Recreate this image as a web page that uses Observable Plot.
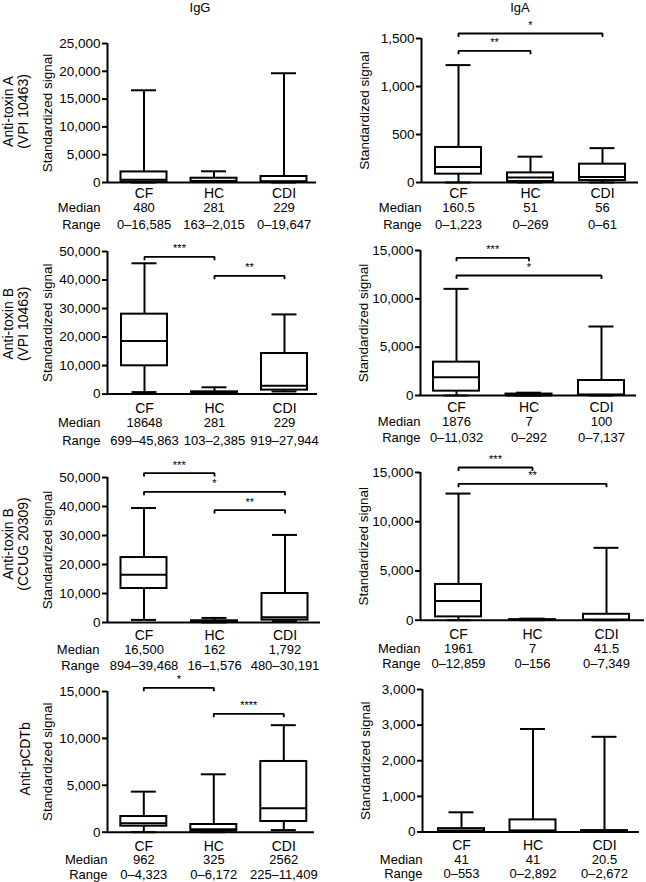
<!DOCTYPE html>
<html><head><meta charset="utf-8">
<script src="https://cdn.jsdelivr.net/npm/d3@7"></script>
<script src="https://cdn.jsdelivr.net/npm/@observablehq/plot@0.6"></script>
<style>
body{margin:0;background:#fff;}
#fig{position:relative;width:646px;height:882px;font-family:"Liberation Sans",Arial,sans-serif;color:#000;overflow:hidden;}
.ttl{position:absolute;top:0;font-size:13px;line-height:15px;transform:translateX(-50%);white-space:nowrap;}
#fig svg{position:absolute;overflow:visible;}
</style></head><body><div id="fig"></div>
<script>
// ---------- data ----------
const groups = ["CF", "HC", "CDI"];
const columnTitles = ["IgG", "IgA"];
const rowTitles = ["Anti-toxin A\n(VPI 10463)", "Anti-toxin B\n(VPI 10463)", "Anti-toxin B\n(CCUG 20309)", "Anti-pCDTb"];
const yAxisTitle = "Standardized signal";
const rowHeaders = ["Median", "Range"];
// panels in reading order: [row1 IgG, row1 IgA, row2 IgG, row2 IgA, ...]
const yMax = [25000, 1500, 50000, 15000, 50000, 15000, 15000, 4000];
const yTicks = [
  [0, 5000, 10000, 15000, 20000, 25000],
  [0, 500, 1000, 1500],
  [0, 10000, 20000, 30000, 40000, 50000],
  [0, 5000, 10000, 15000],
  [0, 10000, 20000, 30000, 40000, 50000],
  [0, 5000, 10000, 15000],
  [0, 5000, 10000, 15000],
  [0, 1000, 2000, 3000, 4000]
];
const yTickLabels = [
  ["0", "5,000", "10,000", "15,000", "20,000", "25,000"],
  ["0", "500", "1,000", "1,500"],
  ["0", "10,000", "20,000", "30,000", "40,000", "50,000"],
  ["0", "5,000", "10,000", "15,000"],
  ["0", "10,000", "20,000", "30,000", "40,000", "50,000"],
  ["0", "5,000", "10,000", "15,000"],
  ["0", "5,000", "10,000", "15,000"],
  ["0", "1,000", "2,000", "3,000", "3,000"]
];
// box statistics per panel, order CF, HC, CDI
const boxMin    = [[0, 163, 0], [0, 0, 0], [699, 103, 919], [0, 0, 0], [894, 16, 480], [0, 0, 0], [0, 0, 225], [0, 0, 0]];
const boxQ1     = [[80, 200, 30], [87, 10, 20], [9920, 150, 1400], [450, 0, 10], [11720, 80, 830], [335, 0, 0], [640, 100, 1140], [10, 20, 5]];
const boxMedian = [[480, 281, 229], [160.5, 51, 56], [18648, 281, 2900], [1876, 7, 100], [16500, 162, 1792], [1961, 7, 41.5], [962, 325, 2562], [41, 41, 20.5]];
const boxQ3     = [[1900, 770, 1080], [365, 100, 191], [28030, 800, 14230], [3450, 150, 1550], [22400, 600, 10000], [3630, 60, 600], [1670, 820, 7540], [94, 340, 40]];
const boxMax    = [[16585, 2015, 19647], [1223, 269, 358], [45863, 2385, 27944], [11032, 292, 7137], [39468, 1576, 30191], [12859, 156, 7349], [4323, 6172, 11409], [553, 2892, 2672]];
const medianLabels = [
  ["480", "281", "229"], ["160.5", "51", "56"], ["18648", "281", "229"], ["1876", "7", "100"],
  ["16,500", "162", "1,792"], ["1961", "7", "41.5"], ["962", "325", "2562"], ["41", "41", "20.5"]
];
const rangeLabels = [
  ["0–16,585", "163–2,015", "0–19,647"], ["0–1,223", "0–269", "0–61"],
  ["699–45,863", "103–2,385", "919–27,944"], ["0–11,032", "0–292", "0–7,137"],
  ["894–39,468", "16–1,576", "480–30,191"], ["0–12,859", "0–156", "0–7,349"],
  ["0–4,323", "0–6,172", "225–11,409"], ["0–553", "0–2,892", "0–2,672"]
];
// significance brackets
const sigPanel = [1, 1, 2, 2, 3, 3, 4, 4, 4, 5, 5, 6, 6];
const sigFrom  = ["CF", "CF", "CF", "HC", "CF", "CF", "CF", "CF", "HC", "CF", "CF", "CF", "HC"];
const sigTo    = ["HC", "CDI", "HC", "CDI", "HC", "CDI", "HC", "CDI", "CDI", "HC", "CDI", "HC", "CDI"];
const sigY     = [1372, 1552, 48140, 41480, 14245, 12414, 51520, 45070, 38760, 15508, 13850, 15394, 12623];
const sigStars = ["**", "*", "***", "**", "***", "*", "***", "*", "**", "***", "**", "*", "****"];

// ---------- layout (pixels) ----------
const geom = [
  {left: 0,   axisX: 107, c0: 143.5, step: 70,   end: 316, top: 43,    zero: 182,   hdrDx: -7, rowDy: [11, 25, 42],     rtDy: -1.5},
  {left: 323, axisX: 421, c0: 458,   step: 72,   end: 638, top: 37.7,  zero: 181.7, hdrDx: 0,  rowDy: [11.5, 25.5, 42]},
  {left: 0,   axisX: 107, c0: 144,   step: 70,   end: 317, top: 250.7, zero: 393.3, hdrDx: -7, rowDy: [14.5, 28.5, 46.5], rtDy: 1},
  {left: 323, axisX: 420, c0: 456,   step: 72.5, end: 636, top: 250,   zero: 395,   hdrDx: 0,  rowDy: [12.5, 26.5, 42.5]},
  {left: 0,   axisX: 107, c0: 143.5, step: 70.5, end: 320, top: 476.7, zero: 621.7, hdrDx: -8, rowDy: [13, 27, 43],     rtDy: -6},
  {left: 323, axisX: 420, c0: 458,   step: 74,   end: 644, top: 472.3, zero: 620,   hdrDx: 0,  rowDy: [14, 28.5, 44]},
  {left: 0,   axisX: 107, c0: 143.3, step: 70,   end: 314, top: 691,   zero: 831.7, hdrDx: 0,  rowDy: [14, 28, 43],     rtDy: -3},
  {left: 323, axisX: 422, c0: 461,   step: 71.5, end: 639, top: 689,   zero: 831.5, hdrDx: 0,  rowDy: [13.5, 27.5, 41.5]}
];
const PW = 323, MT = 40, MB = 60;
const fig = document.getElementById("fig");

// column titles
[[200, 0], [520, 1]].forEach(([cx, c]) => {
  const d = document.createElement("div");
  d.className = "ttl"; d.style.left = cx + "px"; d.textContent = columnTitles[c];
  fig.appendChild(d);
});

geom.forEach((g, p) => {
  const x0 = (g.axisX - g.c0) / g.step, x1 = (g.end - g.c0) / g.step;
  const plotH = g.zero - g.top;
  const idx = [0, 1, 2];
  const tickMap = new Map(yTicks[p].map((v, i) => [v, yTickLabels[p][i]]));
  const bw = 23 / g.step, cw = 12.5 / g.step;
  const tl = 3.5 * yMax[p] / plotH;
  const pts = [], stars = [];
  sigPanel.forEach((sp, k) => {
    if (sp !== p) return;
    const a = groups.indexOf(sigFrom[k]), b = groups.indexOf(sigTo[k]);
    pts.push({k, x: a, y: sigY[k] - tl}, {k, x: a, y: sigY[k]}, {k, x: b, y: sigY[k]}, {k, x: b, y: sigY[k] - tl});
    stars.push({x: (a + b) / 2, y: sigY[k], t: sigStars[k]});
  });
  const marks = [
    Plot.ruleX([x0], {y1: 0, y2: yMax[p], strokeWidth: 2}),
    Plot.axisY(yTicks[p], {tickSize: 5, tickPadding: 2, strokeWidth: 2, fontSize: 13.5, tickFormat: d => tickMap.get(d), label: null}),
    Plot.ruleY([0], {strokeWidth: 2}),
    Plot.ruleX(idx, {x: i => i, y1: i => boxMin[p][i], y2: i => boxMax[p][i], strokeWidth: 2}),
    Plot.rect(idx, {x1: i => i - bw, x2: i => i + bw, y1: i => boxQ1[p][i], y2: i => boxQ3[p][i], fill: "white", stroke: "black", strokeWidth: 2}),
    Plot.ruleY(idx, {x1: i => i - bw, x2: i => i + bw, y: i => boxMedian[p][i], strokeWidth: 2}),
    Plot.ruleY(idx, {x1: i => i - cw, x2: i => i + cw, y: i => boxMax[p][i], strokeWidth: 2}),
    Plot.ruleY(idx, {x1: i => i - cw, x2: i => i + cw, y: i => boxMin[p][i], strokeWidth: 2}),
    Plot.line(pts, {x: "x", y: "y", z: "k", strokeWidth: 1.8, strokeLinecap: "butt", strokeLinejoin: "miter"}),
    Plot.text(stars, {x: "x", y: "y", text: "t", dy: -8, fontSize: 11}),
    Plot.text(idx, {x: i => i, y: 0, text: i => groups[i], dy: g.rowDy[0], fontSize: 14}),
    Plot.text(idx, {x: i => i, y: 0, text: i => medianLabels[p][i], dy: g.rowDy[1], fontSize: 13}),
    Plot.text(idx, {x: i => i, y: 0, text: i => rangeLabels[p][i], dy: g.rowDy[2], fontSize: 13}),
    Plot.text([rowHeaders[0]], {x: x0, y: 0, dy: g.rowDy[1], dx: g.hdrDx, textAnchor: "end", fontSize: 13}),
    Plot.text([rowHeaders[1]], {x: x0, y: 0, dy: g.rowDy[2], dx: g.hdrDx, textAnchor: "end", fontSize: 13}),
    Plot.text([yAxisTitle], {frameAnchor: "left", textAnchor: "middle", lineAnchor: "middle", rotate: -90, dx: g.left === 0 ? -59.5 : -57, fontSize: 13.5})
  ];
  if (g.left === 0) {
    const r = Math.floor(p / 2);
    const two = rowTitles[r].includes("\n");
    marks.push(Plot.text([rowTitles[r]], {frameAnchor: "left", textAnchor: "middle", lineAnchor: "middle", rotate: -90, dx: two ? -92 : -82, dy: g.rtDy || 0, fontSize: 14, lineHeight: 1.07}));
  }
  const svg = Plot.plot({
    width: PW,
    height: plotH + MT + MB,
    marginTop: MT, marginBottom: MB,
    marginLeft: g.axisX - g.left,
    marginRight: g.left + PW - g.end,
    x: {domain: [x0, x1], axis: null},
    y: {domain: [0, yMax[p]], label: null, axis: null},
    style: {fontFamily: "Liberation Sans, Arial, sans-serif", fontSize: "13.5px", background: "transparent", color: "black", overflow: "visible"},
    marks
  });
  svg.style.left = g.left + "px";
  svg.style.top = (g.top - MT) + "px";
  fig.appendChild(svg);
});
</script></body></html>
